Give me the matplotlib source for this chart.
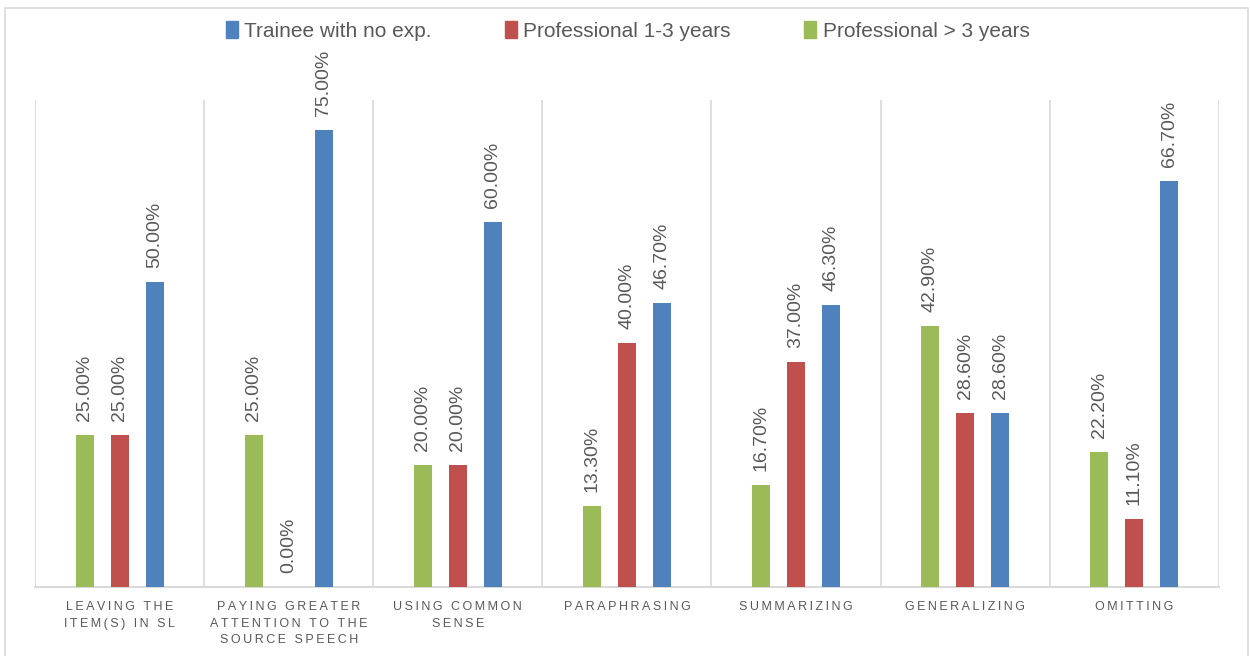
import numpy as np
import matplotlib.pyplot as plt
from matplotlib.patches import Rectangle, Patch

plt.rcParams['font.family'] = ['Liberation Sans', 'DejaVu Sans']

categories = ['LEAVING THE\nITEM(S) IN SL',
              'PAYING GREATER\nATTENTION TO THE\nSOURCE SPEECH',
              'USING COMMON\nSENSE',
              'PARAPHRASING',
              'SUMMARIZING',
              'GENERALIZING',
              'OMITTING']
trainee = [50.0, 75.0, 60.0, 46.7, 46.3, 28.6, 66.7]
prof_1_3 = [25.0, 0.0, 20.0, 40.0, 37.0, 28.6, 11.1]
prof_3 = [25.0, 25.0, 20.0, 13.3, 16.7, 42.9, 22.2]

series = [('Professional > 3 years', prof_3, '#9bbb59'),
          ('Professional 1-3 years', prof_1_3, '#c0504d'),
          ('Trainee with no exp.', trainee, '#4f81bd')]


def spaced(label):
    # letter spacing like the Excel axis labels
    return '\n'.join('\u2009'.join(line) for line in label.split('\n'))


fig = plt.figure(figsize=(12.5, 6.56), dpi=100)
ax = fig.add_axes([0.028, 0.105, 0.947, 0.743])

# outer chart border
fig.patches.append(Rectangle((0.004, -0.01), 0.994, 0.998, transform=fig.transFigure,
                             fill=False, edgecolor='#d9d9d9', linewidth=1.2))

x = np.arange(len(categories))
width = 0.107
offsets = [-0.207, 0.0, 0.207]
grey = '#595959'

for (name, vals, col), off in zip(series, offsets):
    bars = ax.bar(x + off, vals, width, color=col, label=name, zorder=3)
    for b, v in zip(bars, vals):
        ax.text(b.get_x() + b.get_width() / 2, v + 2.3, '%.2f%%' % v,
                rotation=90, ha='center', va='bottom', fontsize=14, color=grey)

ax.set_xlim(-0.5, len(categories) - 0.5)
ax.set_ylim(0, 80)
for b in np.arange(len(categories) + 1) - 0.5:
    ax.axvline(b, color='#d9d9d9', linewidth=1.2, zorder=1)

ax.set_yticks([])
ax.set_xticks(x)
ax.set_xticklabels([spaced(c) for c in categories], fontsize=9, color=grey, linespacing=1.5)
ax.tick_params(axis='x', length=0, pad=10)
for s in ['top', 'right', 'left']:
    ax.spines[s].set_visible(False)
ax.spines['bottom'].set_color('#d9d9d9')
ax.spines['bottom'].set_linewidth(1.5)

handles = [Patch(color=c, label=n) for n, v, c in series[::-1]]
fig.legend(handles=handles, loc='center', bbox_to_anchor=(0.502, 0.953), ncol=3,
           frameon=False, fontsize=15, handlelength=0.6, handleheight=0.9,
           handletextpad=0.3, columnspacing=3.5, labelcolor=grey)

fig.savefig('out.png', dpi=100)
